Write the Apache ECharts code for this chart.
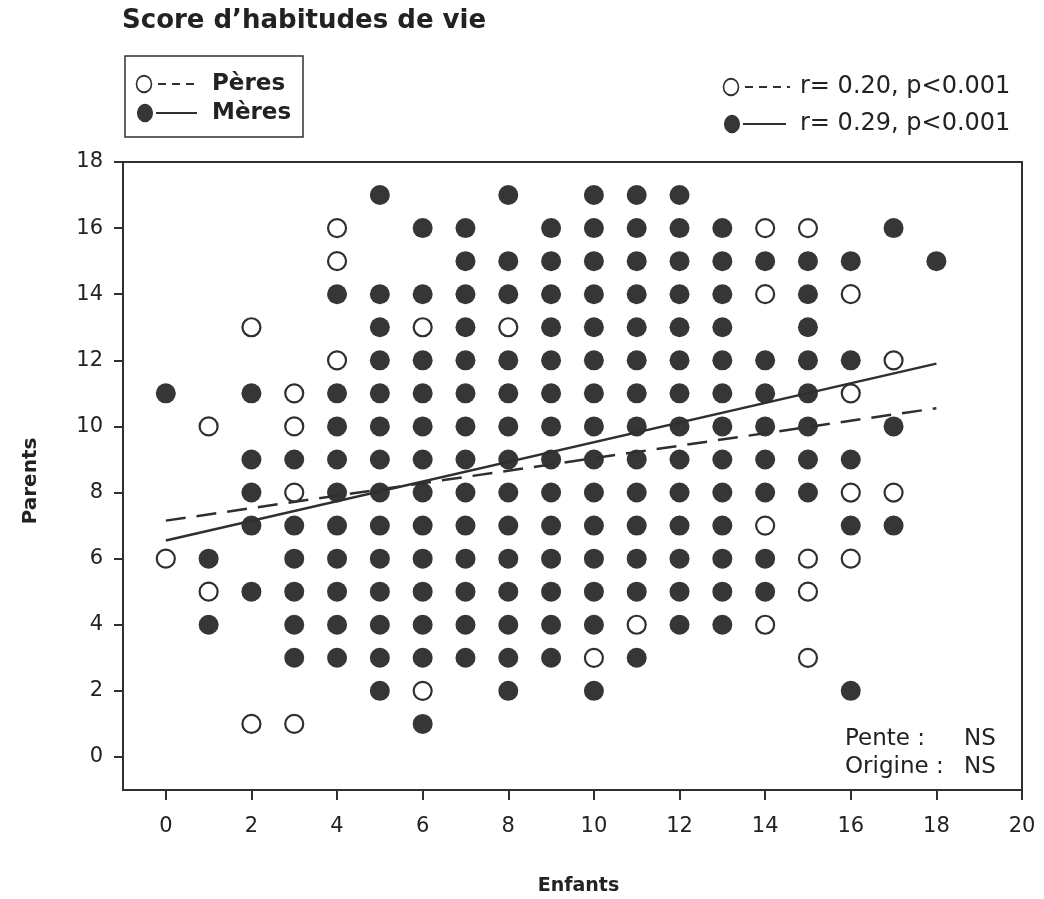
<!DOCTYPE html>
<html>
<head>
<meta charset="utf-8">
<title>Score d’habitudes de vie</title>
<script src="https://cdn.jsdelivr.net/npm/echarts@6/dist/echarts.min.js"></script>
<style>
  html, body { margin: 0; padding: 0; background: #fff; }
  #chart { width: 1044px; height: 899px; }
</style>
</head>
<body>
<div id="chart"></div>
<script>
// Tick positions on both axes
const xTicks = [0, 2, 4, 6, 8, 10, 12, 14, 16, 18, 20];
const yTicks = [0, 2, 4, 6, 8, 10, 12, 14, 16, 18];

// Pères: [score enfant, score père]
const peres = [
  [0, 6], [1, 10], [1, 5], [2, 13], [2, 1], [3, 11], [3, 10], [3, 8], [3, 1],
  [4, 16], [4, 15], [4, 12], [6, 13], [6, 2], [8, 13], [10, 3], [11, 4],
  [14, 16], [14, 14], [14, 7], [14, 4], [15, 16], [15, 6], [15, 5], [15, 3],
  [16, 14], [16, 11], [16, 8], [16, 6], [17, 12], [17, 8]
];

// Mères: score enfant -> scores mère observés
const meresColumns = [
  [0, [11]],
  [1, [6, 4]],
  [2, [11, 9, 8, 7, 5]],
  [3, [9, 7, 6, 5, 4, 3]],
  [4, [14, 11, 10, 9, 8, 7, 6, 5, 4, 3]],
  [5, [17, 14, 13, 12, 11, 10, 9, 8, 7, 6, 5, 4, 3, 2]],
  [6, [16, 14, 12, 11, 10, 9, 8, 7, 6, 5, 4, 3, 1]],
  [7, [16, 15, 14, 13, 12, 11, 10, 9, 8, 7, 6, 5, 4, 3]],
  [8, [17, 15, 14, 12, 11, 10, 9, 8, 7, 6, 5, 4, 3, 2]],
  [9, [16, 15, 14, 13, 12, 11, 10, 9, 8, 7, 6, 5, 4, 3]],
  [10, [17, 16, 15, 14, 13, 12, 11, 10, 9, 8, 7, 6, 5, 4, 2]],
  [11, [17, 16, 15, 14, 13, 12, 11, 10, 9, 8, 7, 6, 5, 3]],
  [12, [17, 16, 15, 14, 13, 12, 11, 10, 9, 8, 7, 6, 5, 4]],
  [13, [16, 15, 14, 13, 12, 11, 10, 9, 8, 7, 6, 5, 4]],
  [14, [15, 12, 11, 10, 9, 8, 6, 5]],
  [15, [15, 14, 13, 12, 11, 10, 9, 8]],
  [16, [15, 12, 9, 7, 2]],
  [17, [16, 10, 7]],
  [18, [15]]
];

// Droites de régression (extrémités)
const peresFit = [[0, 7.15], [18, 10.55]];
const meresFit = [[0, 6.55], [18, 11.9]];

const meres = [];
meresColumns.forEach(([x, ys]) => ys.forEach(y => meres.push([x, y])));

const FONT = '"DejaVu Sans", Verdana, sans-serif';
const INK = '#2f2f2f';

const chart = echarts.init(document.getElementById('chart'), null, { renderer: 'canvas' });

chart.setOption({
  animation: false,
  backgroundColor: '#fff',
  textStyle: { fontFamily: FONT },
  grid: {
    left: 123, right: 22, top: 162, bottom: 109,
    outerBoundsMode: 'none', containLabel: false,
    show: true, borderColor: INK, borderWidth: 2, backgroundColor: 'transparent'
  },
  xAxis: {
    type: 'value', min: -1, max: 20,
    name: 'Enfants', nameLocation: 'middle', nameGap: 87,
    nameTextStyle: { fontFamily: FONT, fontWeight: 'bold', fontSize: 19, color: '#222', padding: [0, 0, 0, 12] },
    axisLine: { onZero: false, lineStyle: { color: INK, width: 2 } },
    axisTick: { show: true, customValues: xTicks, length: 10, lineStyle: { color: INK, width: 2 } },
    axisLabel: { customValues: xTicks, margin: 26, fontSize: 21, color: '#222', fontFamily: FONT },
    splitLine: { show: false }
  },
  yAxis: {
    type: 'value', min: -1, max: 18,
    name: 'Parents', nameLocation: 'middle', nameGap: 82, nameRotate: 90,
    nameTextStyle: { fontFamily: FONT, fontWeight: 'bold', fontSize: 20, color: '#222', padding: [0, 10, 0, 0] },
    axisLine: { onZero: false, lineStyle: { color: INK, width: 2 } },
    axisTick: { show: true, customValues: yTicks, length: 9, lineStyle: { color: INK, width: 2 } },
    axisLabel: { customValues: yTicks, margin: 20, fontSize: 21, color: '#222', fontFamily: FONT },
    splitLine: { show: false }
  },
  series: [
    {
      name: 'Mères', type: 'scatter', data: meres, symbol: 'circle', symbolSize: 20,
      itemStyle: { color: '#363636', opacity: 1 }, z: 2, silent: true
    },
    {
      name: 'Pères', type: 'scatter', data: peres, symbol: 'circle', symbolSize: 18,
      itemStyle: { color: '#fff', borderColor: INK, borderWidth: 2.2, opacity: 1 }, z: 2, silent: true
    },
    {
      name: 'Pères (régression)', type: 'line', data: peresFit, showSymbol: false, z: 5, silent: true,
      lineStyle: { color: INK, width: 2.5, type: [20, 11] }
    },
    {
      name: 'Mères (régression)', type: 'line', data: meresFit, showSymbol: false, z: 5, silent: true,
      lineStyle: { color: INK, width: 2.5, type: 'solid' }
    }
  ],
  graphic: [
    // Titre
    { type: 'text', left: 122, top: 8, style: { text: 'Score d’habitudes de vie', font: 'bold 26px ' + FONT, fill: '#222' } },

    // Légende encadrée
    { type: 'rect', shape: { x: 125, y: 56, width: 178, height: 81 }, style: { fill: 'none', stroke: INK, lineWidth: 1.5 } },
    { type: 'circle', x: 144, y: 84, scaleY: 1.1, shape: { cx: 0, cy: 0, r: 7.5 }, style: { fill: '#fff', stroke: INK, lineWidth: 1.6 } },
    { type: 'line', shape: { x1: 158, y1: 84, x2: 198, y2: 84 }, style: { stroke: INK, lineWidth: 2, lineDash: [8, 6] } },
    { type: 'text', x: 212, y: 84, style: { text: 'Pères', font: 'bold 23px ' + FONT, fill: '#222', textVerticalAlign: 'middle' } },
    { type: 'circle', x: 145, y: 113, scaleY: 1.15, shape: { cx: 0, cy: 0, r: 7.5 }, style: { fill: '#363636', stroke: INK, lineWidth: 1 } },
    { type: 'line', shape: { x1: 156, y1: 113, x2: 197, y2: 113 }, style: { stroke: INK, lineWidth: 2 } },
    { type: 'text', x: 212, y: 113, style: { text: 'Mères', font: 'bold 23px ' + FONT, fill: '#222', textVerticalAlign: 'middle' } },

    // Coefficients de corrélation
    { type: 'circle', x: 731, y: 87, scaleY: 1.1, shape: { cx: 0, cy: 0, r: 7.5 }, style: { fill: '#fff', stroke: INK, lineWidth: 1.6 } },
    { type: 'line', shape: { x1: 745, y1: 87, x2: 790, y2: 87 }, style: { stroke: INK, lineWidth: 2, lineDash: [8, 6] } },
    { type: 'text', x: 800, y: 87, style: { text: 'r= 0.20, p<0.001', font: '24px ' + FONT, fill: '#222', textVerticalAlign: 'middle' } },
    { type: 'circle', x: 732, y: 124, scaleY: 1.15, shape: { cx: 0, cy: 0, r: 7.5 }, style: { fill: '#363636', stroke: INK, lineWidth: 1 } },
    { type: 'line', shape: { x1: 743, y1: 124, x2: 786, y2: 124 }, style: { stroke: INK, lineWidth: 2 } },
    { type: 'text', x: 800, y: 124, style: { text: 'r= 0.29, p<0.001', font: '24px ' + FONT, fill: '#222', textVerticalAlign: 'middle' } },

    // Tests de comparaison des droites
    { type: 'text', x: 845, y: 739, style: { text: 'Pente :', font: '23px ' + FONT, fill: '#222', textVerticalAlign: 'middle' } },
    { type: 'text', x: 964, y: 739, style: { text: 'NS', font: '23px ' + FONT, fill: '#222', textVerticalAlign: 'middle' } },
    { type: 'text', x: 845, y: 767, style: { text: 'Origine :', font: '23px ' + FONT, fill: '#222', textVerticalAlign: 'middle' } },
    { type: 'text', x: 964, y: 767, style: { text: 'NS', font: '23px ' + FONT, fill: '#222', textVerticalAlign: 'middle' } }
  ]
});
</script>
</body>
</html>
